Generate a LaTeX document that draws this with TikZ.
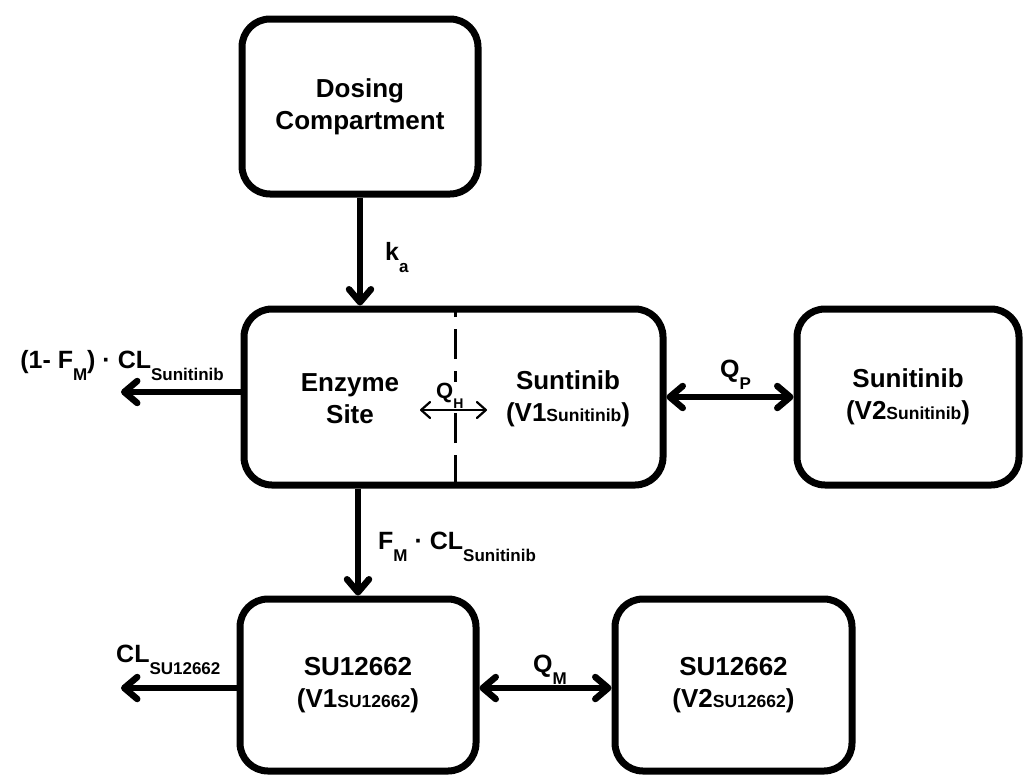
\documentclass[tikz,border=0pt]{standalone}
\usepackage{fontspec}
\setmainfont{Liberation Sans}
\usetikzlibrary{arrows.meta}
\newcommand{\bxfont}{\fontsize{26}{32}\selectfont\bfseries}
\newcommand{\bsub}[1]{{\fontsize{17.5}{17.5}\selectfont #1}}
\newcommand{\lbfont}{\fontsize{25}{25}\selectfont\bfseries}
\newcommand{\lsub}[1]{\raisebox{-12pt}{\fontsize{17}{17}\selectfont #1}}
\begin{document}
\begin{tikzpicture}[x=1pt,y=-1pt,
  comp/.style={draw, line width=7pt, rounded corners=28pt, inner sep=0pt, align=center, font=\bxfont},
  txt/.style={inner sep=0pt, align=center, font=\bxfont},
  lab/.style={inner sep=0pt, font=\lbfont},
  thickarrow/.style={line width=6.5pt, -{Straight Barb[round,length=13pt,width=22pt]}},
  thickdbl/.style={line width=6.5pt, {Straight Barb[round,length=13pt,width=22pt]}-{Straight Barb[round,length=13pt,width=22pt]}},
  thindbl/.style={line width=2.2pt, {Straight Barb[round,length=9pt,width=16pt]}-{Straight Barb[round,length=9pt,width=16pt]}},
  divider/.style={line width=3pt, dash pattern=on 30pt off 12pt}]
\useasboundingbox (0,0) rectangle (1025,774);
% boxes
\node[comp, minimum width=236pt, minimum height=175pt] (dose) at (360,106.5) {Dosing\\Compartment};
\node[comp, minimum width=419pt, minimum height=176pt] (enz) at (453.5,397) {};
\node[comp, minimum width=222pt, minimum height=176pt] (v2s) at (908,397) {Sunitinib\\(V2\bsub{Sunitinib})};
\node[comp, minimum width=236pt, minimum height=172pt] (su1) at (358,685) {SU12662\\(V1\bsub{SU12662})};
\node[comp, minimum width=237pt, minimum height=172pt] (su2) at (733.5,685) {SU12662\\(V2\bsub{SU12662})};
% enzyme box contents
\node[txt] (enzt) at (350,399) {Enzyme\\Site};
\node[txt] (v1t) at (568,399) {Suntinib\\(V1\bsub{Sunitinib})};
\coordinate (dtop) at (455,309);
\coordinate (dbot) at (455,485);
\draw[divider] (dbot) -- (dtop);
\node[lab, fill=white, inner sep=1pt, anchor=base west, font=\fontsize{22}{22}\selectfont\bfseries] (qh) at (435,398) {Q\raisebox{-10pt}{\fontsize{14}{14}\selectfont H}};
\coordinate (qhL) at (420,410);
\coordinate (qhR) at (487,410);
\draw[thindbl] (qhL) -- (qhR);
% connectors
\draw[thickarrow] (dose.south) -- (dose.south |- enz.north);
\node[lab, anchor=base west] (ka) at (385,260) {k\lsub{a}};
\coordinate (outS) at (121,392);
\draw[thickarrow] (enz.west |- outS) -- (outS);
\node[lab, anchor=base east] (clS) at (224,368) {(1- F\lsub{M}) · CL\lsub{Sunitinib}};
\draw[thickdbl] (enz.east) -- (v2s.west);
\node[lab, anchor=base west] (qp) at (720,377) {Q\lsub{P}};
\draw[thickarrow] (enz.south -| su1.north) -- (su1.north);
\node[lab, anchor=base west] (fm) at (378,549) {F\lsub{M} · CL\lsub{Sunitinib}};
\coordinate (outM) at (121,688);
\draw[thickarrow] (su1.west |- outM) -- (outM);
\node[lab, anchor=base west] (clM) at (116,662) {CL\lsub{SU12662}};
\draw[thickdbl] (su1.east |- outM) -- (su2.west |- outM);
\node[lab, anchor=base west] (qm) at (533,672) {Q\lsub{M}};
\end{tikzpicture}
\end{document}
